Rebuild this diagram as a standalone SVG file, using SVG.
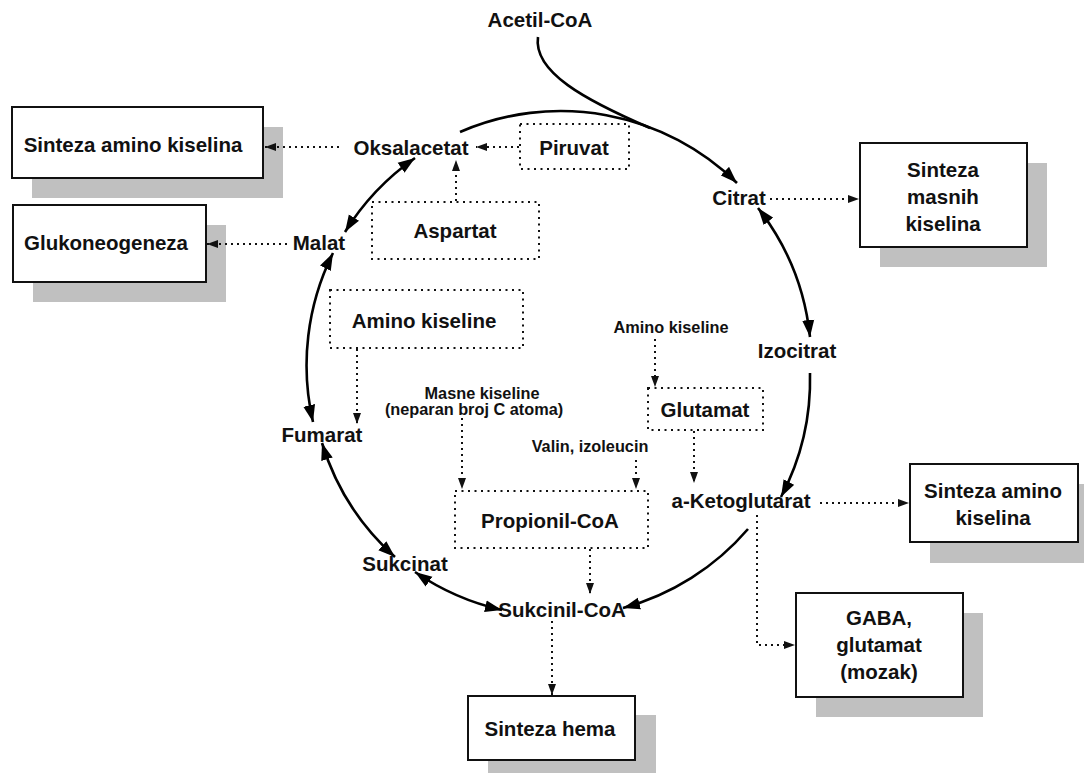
<svg xmlns="http://www.w3.org/2000/svg" width="1084" height="773" viewBox="0 0 1084 773">
  <style>
    text { font-family: "Liberation Sans", Arial, sans-serif; font-weight: bold; fill: #111; text-anchor: middle; }
    .lg { font-size: 20.5px; }
    .sm { font-size: 16.3px; }
    .shadow { fill: #c0c0c0; }
    .box { fill: #fff; stroke: #111; stroke-width: 2; }
    .dbox { fill: none; stroke: #111; stroke-width: 2; stroke-dasharray: 2 4.5; }
    .cyc { fill: none; stroke: #000; stroke-width: 2.6; }
    .dot { fill: none; stroke: #111; stroke-width: 2; stroke-dasharray: 2 4; }
  </style>
  <defs>
    <marker id="ah" markerUnits="userSpaceOnUse" markerWidth="18" markerHeight="13" refX="17" refY="6.5" orient="auto-start-reverse" viewBox="0 0 18 13">
      <path d="M0,0.5 L17,6.5 L0,12.5 z" fill="#000"/>
    </marker>
    <marker id="dh" markerUnits="userSpaceOnUse" markerWidth="12" markerHeight="10" refX="11" refY="5" orient="auto" viewBox="0 0 12 10">
      <path d="M0,1 L11,5 L0,9 z" fill="#111"/>
    </marker>
  </defs>

  <!-- Solid-bordered output boxes with drop shadows -->
  <g id="box-amino-left">
    <rect class="shadow" x="32" y="127" width="251" height="71"/>
    <rect class="box" x="12" y="107" width="251" height="71"/>
    <text class="lg" x="133" y="152">Sinteza amino kiselina</text>
  </g>
  <g id="box-glukoneogeneza">
    <rect class="shadow" x="33" y="225" width="193" height="77"/>
    <rect class="box" x="13" y="205" width="193" height="77"/>
    <text class="lg" x="106" y="250">Glukoneogeneza</text>
  </g>
  <g id="box-masne">
    <rect class="shadow" x="880" y="163" width="167" height="104"/>
    <rect class="box" x="860" y="143" width="167" height="104"/>
    <text class="lg" x="943" y="177">Sinteza</text>
    <text class="lg" x="943" y="204">masnih</text>
    <text class="lg" x="943" y="231">kiselina</text>
  </g>
  <g id="box-amino-right">
    <rect class="shadow" x="930" y="484" width="168" height="79"/>
    <rect class="box" x="910" y="464" width="168" height="78"/>
    <text class="lg" x="993" y="498">Sinteza amino</text>
    <text class="lg" x="993" y="525">kiselina</text>
  </g>
  <g id="box-gaba">
    <rect class="shadow" x="816" y="613" width="167" height="104"/>
    <rect class="box" x="796" y="593" width="167" height="104"/>
    <text class="lg" x="879" y="625">GABA,</text>
    <text class="lg" x="879" y="652">glutamat</text>
    <text class="lg" x="879" y="679">(mozak)</text>
  </g>
  <g id="box-hema">
    <rect class="shadow" x="488" y="715" width="168" height="64"/>
    <rect class="box" x="468" y="696" width="167" height="64"/>
    <text class="lg" x="550" y="736">Sinteza hema</text>
  </g>

  <!-- Dotted source boxes -->
  <g id="piruvat">
    <rect class="dbox" x="520" y="124" width="109" height="45"/>
    <text class="lg" x="574" y="155">Piruvat</text>
  </g>
  <g id="aspartat">
    <rect class="dbox" x="372" y="202" width="167" height="57"/>
    <text class="lg" x="455" y="238">Aspartat</text>
  </g>
  <g id="amino-box">
    <rect class="dbox" x="330" y="290" width="193" height="58"/>
    <text class="lg" x="424" y="328">Amino kiseline</text>
  </g>
  <g id="propionil">
    <rect class="dbox" x="455" y="491" width="193" height="57"/>
    <text class="lg" x="550" y="528">Propionil-CoA</text>
  </g>
  <g id="glutamat">
    <rect class="dbox" x="648" y="388" width="115" height="42"/>
    <text class="lg" x="705" y="417">Glutamat</text>
  </g>

  <!-- Cycle metabolites -->
  <g id="acetil"><text class="lg" x="540" y="27">Acetil-CoA</text></g>
  <g id="oksalacetat"><text class="lg" x="411" y="155">Oksalacetat</text></g>
  <g id="citrat"><text class="lg" x="739" y="205">Citrat</text></g>
  <g id="izocitrat"><text class="lg" x="797" y="358">Izocitrat</text></g>
  <g id="ketoglutarat"><text class="lg" x="741" y="508">a-Ketoglutarat</text></g>
  <g id="sukcinil"><text class="lg" x="562" y="617">Sukcinil-CoA</text></g>
  <g id="sukcinat"><text class="lg" x="405" y="571">Sukcinat</text></g>
  <g id="fumarat"><text class="lg" x="322" y="442">Fumarat</text></g>
  <g id="malat"><text class="lg" x="319" y="250">Malat</text></g>

  <!-- Free labels -->
  <g id="amino-small"><text class="sm" x="671" y="333">Amino kiseline</text></g>
  <g id="masne">
    <text class="sm" x="482" y="399">Masne kiseline</text>
    <text class="sm" x="474" y="415">(neparan broj C atoma)</text>
  </g>
  <g id="valin"><text class="sm" x="590" y="452">Valin, izoleucin</text></g>

  <!-- Connectors -->
  <g id="connectors">
    <!-- cycle arcs -->
    <path class="cyc" d="M460,132 A252,252 0 0 1 737,183" marker-end="url(#ah)"/>
    <path class="cyc" d="M538,37 C533,72 585,100 650,128" stroke-width="2"/>
    <path class="cyc" d="M758,208 A252,252 0 0 1 810,337" marker-start="url(#ah)" marker-end="url(#ah)"/>
    <path class="cyc" d="M810,373 A252,252 0 0 1 781,497" marker-end="url(#ah)"/>
    <path class="cyc" d="M748,529 A252,252 0 0 1 623,608" marker-end="url(#ah)"/>
    <path class="cyc" d="M502,610 A252,252 0 0 1 415,572" marker-start="url(#ah)" marker-end="url(#ah)"/>
    <path class="cyc" d="M395,557 A252,252 0 0 1 322,443" marker-start="url(#ah)" marker-end="url(#ah)"/>
    <path class="cyc" d="M313,422 A252,252 0 0 1 333,253" marker-start="url(#ah)" marker-end="url(#ah)"/>
    <path class="cyc" d="M345,232 A252,252 0 0 1 415,158" marker-start="url(#ah)" marker-end="url(#ah)"/>

    <!-- dotted flows -->
    <path class="dot" d="M339,147 H265" marker-end="url(#dh)"/>
    <path class="dot" d="M287,244 H207" marker-end="url(#dh)"/>
    <path class="dot" d="M519,147 H476" marker-end="url(#dh)"/>
    <path class="dot" d="M456,201 V160" marker-end="url(#dh)"/>
    <path class="dot" d="M770,199 H859" marker-end="url(#dh)"/>
    <path class="dot" d="M357,349 V424" marker-end="url(#dh)"/>
    <path class="dot" d="M462,418 V489" marker-end="url(#dh)"/>
    <path class="dot" d="M636,460 V489" marker-end="url(#dh)"/>
    <path class="dot" d="M655,339 V387" marker-end="url(#dh)"/>
    <path class="dot" d="M694,431 V483" marker-end="url(#dh)"/>
    <path class="dot" d="M820,503 H909" marker-end="url(#dh)"/>
    <path class="dot" d="M757,515 V645 H795" marker-end="url(#dh)"/>
    <path class="dot" d="M590,549 V594" marker-end="url(#dh)"/>
    <path class="dot" d="M552,621 V695" marker-end="url(#dh)"/>
  </g>
</svg>
